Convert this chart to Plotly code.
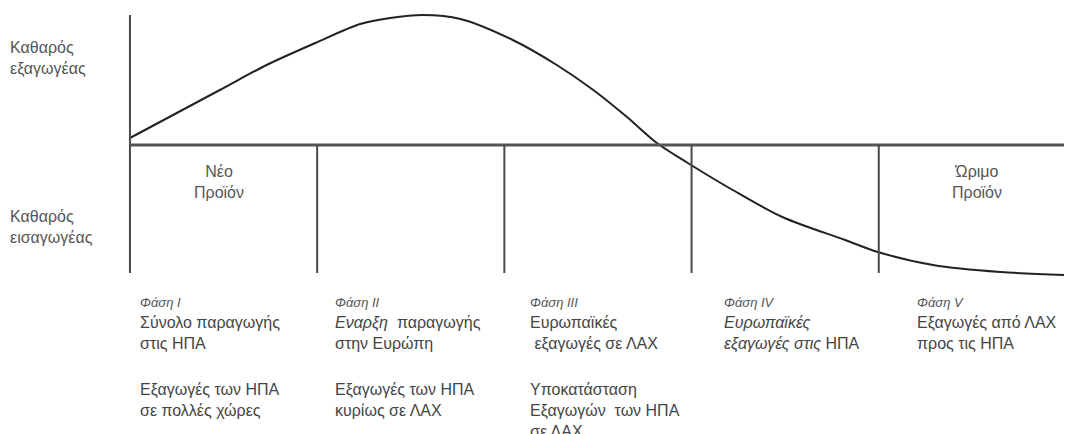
import plotly.graph_objects as go

# time axis: 0..100, five phases of the product life cycle
phase_edges = [0, 20, 40, 60, 80, 100]

# net trade balance of the USA (positive = net exporter)
curve_t = [0, 9.6, 14.6, 19.8, 24.6, 27.8, 31.3, 35.3, 40.9, 45.6, 49.5,
           53.1, 56.3, 59.6, 64.4, 69.7, 76.4, 79.9, 85.8, 93.0, 100]
curve_y = [7, 55, 80, 102, 121, 127, 130, 126, 105, 80, 55,
           28, 2, -18, -45, -72, -95, -107, -120, -127, -130]

axis_top = 130
box_bottom = [-128, -128, -128, -128, -130]

phase_titles = ["Φάση I", "Φάση II", "Φάση III", "Φάση IV", "Φάση V"]
phase_text_1 = [
    "Σύνολο παραγωγής<br>στις ΗΠΑ",
    "<i>Εναρξη</i>  παραγωγής<br>στην Ευρώπη",
    "Ευρωπαϊκές<br> εξαγωγές σε ΛΑΧ",
    "<i>Ευρωπαϊκές<br>εξαγωγές στις</i> ΗΠΑ",
    "Εξαγωγές από ΛΑΧ<br>προς τις ΗΠΑ",
]
phase_text_2 = [
    "Εξαγωγές των ΗΠΑ<br>σε πολλές χώρες",
    "Εξαγωγές των ΗΠΑ<br>κυρίως σε ΛΑΧ",
    "Υποκατάσταση<br>Εξαγωγών  των ΗΠΑ<br>σε ΛΑΧ",
    "",
    "",
]
phase_label_t = [0.85, 21.7, 42.5, 63.2, 83.9]

box_labels = ["Νέο<br>Προϊόν", "Ώριμο<br>Προϊόν"]
box_label_t = [9.5, 90.5]

side_labels = ["Καθαρός<br>εξαγωγέας", "Καθαρός<br>εισαγωγέας"]
side_label_y = [87, -82]

LINE = "#4a4a4a"
TEXT = "#444444"
FONT = "Liberation Sans, Arial, sans-serif"

fig = go.Figure()

fig.add_trace(
    go.Scatter(
        x=curve_t,
        y=curve_y,
        mode="lines",
        line=dict(color="#222222", width=2, shape="spline", smoothing=0.9),
        hoverinfo="skip",
    )
)

# vertical axis and baseline
fig.add_shape(type="line", x0=0, x1=0, y0=box_bottom[0], y1=axis_top,
              line=dict(color=LINE, width=2))
fig.add_shape(type="line", x0=phase_edges[0], x1=phase_edges[-1], y0=0, y1=0,
              line=dict(color="#555555", width=3))

# phase dividers
for edge, bottom in zip(phase_edges[1:], box_bottom):
    fig.add_shape(type="line", x0=edge, x1=edge, y0=0, y1=bottom,
                  line=dict(color=LINE, width=2))

for t, title, t1, t2 in zip(phase_label_t, phase_titles, phase_text_1, phase_text_2):
    fig.add_annotation(x=t, y=-157, text=f"<i>{title}</i>", showarrow=False,
                       xanchor="left", yanchor="middle",
                       font=dict(size=13, color="#555555", family=FONT))
    fig.add_annotation(x=t, y=-167, text=t1, showarrow=False, align="left",
                       xanchor="left", yanchor="top",
                       font=dict(size=16, color=TEXT, family=FONT))
    if t2:
        fig.add_annotation(x=t, y=-234, text=t2, showarrow=False, align="left",
                           xanchor="left", yanchor="top",
                           font=dict(size=16, color=TEXT, family=FONT))

for t, txt in zip(box_label_t, box_labels):
    fig.add_annotation(x=t, y=-37, text=txt, showarrow=False, align="center",
                       font=dict(size=16, color="#555555", family=FONT))

for y, txt in zip(side_label_y, side_labels):
    fig.add_annotation(x=-13.0, y=y, text=txt, showarrow=False, align="left",
                       xanchor="left", yanchor="middle",
                       font=dict(size=16, color="#555555", family=FONT))

fig.update_layout(
    width=1072,
    height=434,
    margin=dict(l=0, r=0, t=0, b=0),
    paper_bgcolor="white",
    plot_bgcolor="white",
    showlegend=False,
    # ranges offset by the page's 8px body margin
    xaxis=dict(range=[-13.03, 101.5], visible=False, fixedrange=True),
    yaxis=dict(range=[-297, 137], visible=False, fixedrange=True),
)

fig.write_html("out.html", config={"displayModeBar": False})
